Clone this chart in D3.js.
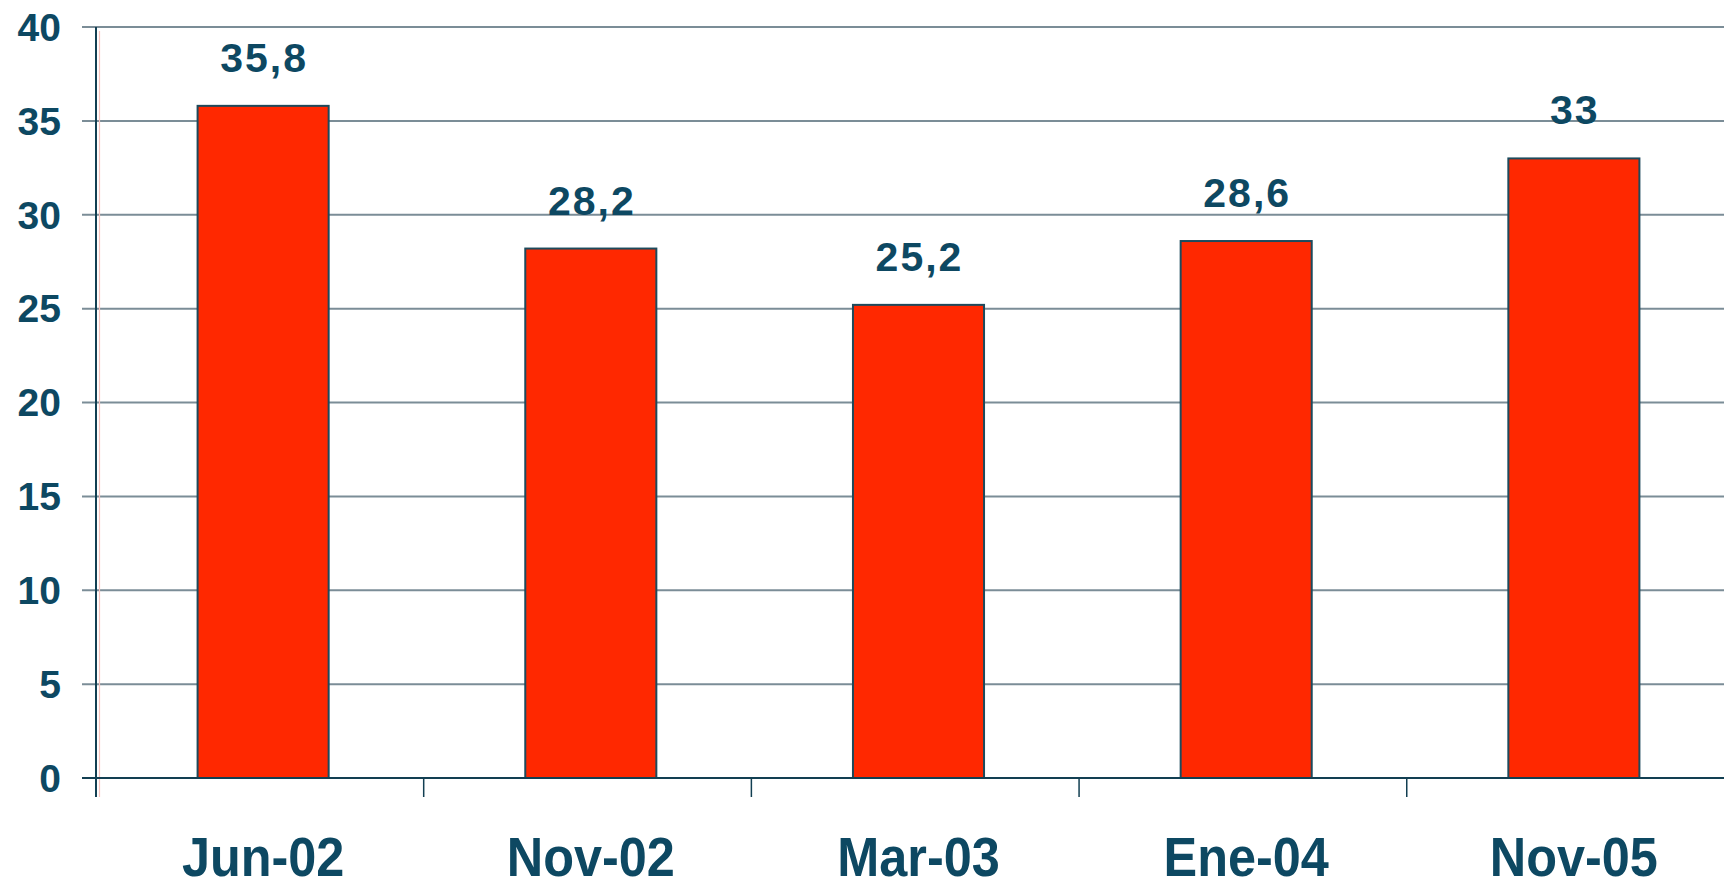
<!DOCTYPE html>
<html>
<head>
<meta charset="utf-8">
<script src="https://cdn.jsdelivr.net/npm/d3@7/dist/d3.min.js"></script>
<style>
  html, body { margin: 0; padding: 0; background: #fff; }
  svg { display: block; font-family: "Liberation Sans", Arial, sans-serif; }
</style>
</head>
<body>
<svg id="chart" width="1724" height="884"></svg>
<script>
/* barras rojas con etiquetas de valor */
var categories = ['Jun-02', 'Nov-02', 'Mar-03', 'Ene-04', 'Nov-05'];
var values = [35.8, 28.2, 25.2, 28.6, 33];
var valueLabels = ['35,8', '28,2', '25,2', '28,6', '33'];
var yTicks = [0, 5, 10, 15, 20, 25, 30, 35, 40];

var W = 1724, H = 884;
var TEXT = '#0d4862', GRID = '#7b8d97', AXIS = '#123f52', BAR = '#ff2800';
var svg = d3.select('#chart');

var x = d3.scaleBand().domain(categories).range([96, 1741]).paddingInner(0.6).paddingOuter(0.31);
var y = d3.scaleLinear().domain([0, 40]).range([778, 27]);

// lineas de cuadricula
svg.append('g').selectAll('line').data(yTicks.filter(function (d) { return d > 0; })).enter().append('line')
  .attr('x1', 82).attr('x2', W).attr('y1', function (d) { return y(d); }).attr('y2', function (d) { return y(d); })
  .attr('stroke', GRID).attr('stroke-width', 2);

// linea rosada (sombra del eje)
svg.append('line').attr('x1', 99.5).attr('x2', 99.5).attr('y1', y(40) + 4).attr('y2', 797)
  .attr('stroke', '#f8c4bf').attr('stroke-width', 1.2);

// etiquetas eje y
var yAxis = svg.append('g').attr('transform', 'translate(61,0)')
  .call(d3.axisLeft(y).tickValues(yTicks).tickSize(0).tickPadding(0));
yAxis.select('.domain').remove();
yAxis.selectAll('text').attr('font-size', 39).attr('font-weight', 'bold').attr('fill', TEXT)
  .attr('font-family', '"Liberation Sans", Arial, sans-serif').attr('dy', '0.34em');

// barras
svg.append('g').selectAll('rect').data(values).enter().append('rect')
  .attr('x', function (d, i) { return x(categories[i]); })
  .attr('width', x.bandwidth())
  .attr('y', function (d) { return y(d); })
  .attr('height', function (d) { return y(0) - y(d); })
  .attr('fill', BAR).attr('stroke', '#1d4a5c').attr('stroke-width', 2);

// eje x
svg.append('line').attr('x1', 82).attr('x2', W).attr('y1', y(0)).attr('y2', y(0))
  .attr('stroke', AXIS).attr('stroke-width', 2.2);
svg.append('line').attr('x1', 96).attr('x2', 96).attr('y1', y(40)).attr('y2', 797)
  .attr('stroke', AXIS).attr('stroke-width', 2);
var bounds = d3.range(categories.length + 1).map(function (i) { return x.range()[0] + i * x.step(); });
svg.append('g').selectAll('line').data(bounds.slice(1)).enter().append('line')
  .attr('x1', function (d) { return d; }).attr('x2', function (d) { return d; })
  .attr('y1', y(0)).attr('y2', 797).attr('stroke', AXIS).attr('stroke-width', 1.5);

var xAxis = svg.append('g').attr('transform', 'translate(0,' + y(0) + ')')
  .call(d3.axisBottom(x).tickSize(0).tickPadding(0));
xAxis.select('.domain').remove();
xAxis.selectAll('text').attr('font-size', 56).attr('font-weight', 'bold').attr('fill', TEXT)
  .attr('transform', 'scale(0.9,1)')
  .attr('font-family', '"Liberation Sans", Arial, sans-serif').attr('dy', 0).attr('y', 98);

// etiquetas de valor
svg.append('g').selectAll('text').data(values).enter().append('text')
  .attr('x', function (d, i) { return x(categories[i]) + x.bandwidth() / 2 + 1; })
  .attr('y', function (d) { return y(d) - 34; })
  .attr('text-anchor', 'middle').attr('font-size', 41).attr('font-weight', 'bold')
  .attr('letter-spacing', 2).attr('fill', TEXT)
  .text(function (d, i) { return valueLabels[i]; });
</script>
</body>
</html>
